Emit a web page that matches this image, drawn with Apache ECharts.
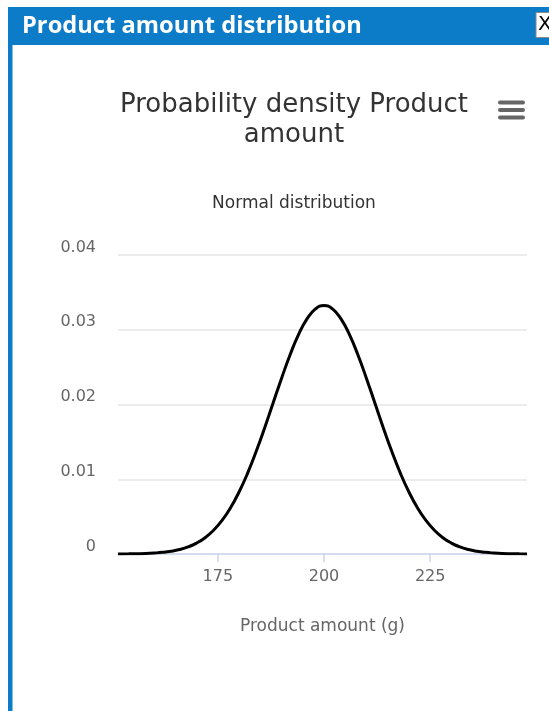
<!DOCTYPE html>
<html>
<head>
<meta charset="utf-8">
<script src="https://cdn.jsdelivr.net/npm/echarts@6/dist/echarts.min.js"></script>
<style>
html,body{margin:0;padding:0;background:#fff;}
#chart{width:549px;height:711px;}
</style>
</head>
<body>
<div id="chart"></div>
<script>
// Data
const amounts = [151.5,154,156,158,160,162,164,166,168,170,172,174,176,178,180,182,184,186,188,190,192,194,196,198,200,202,204,206,208,210,212,214,216,218,220,222,224,226,228,230,232,234,236,238,240,242,244,246,247.8];
const density = [0.00001,0.00002,0.00004,0.00007,0.00013,0.00022,0.00037,0.00060,0.00095,0.00146,0.00218,0.00318,0.00450,0.00619,0.00829,0.01079,0.01367,0.01683,0.02016,0.02349,0.02662,0.02934,0.03145,0.03279,0.03325,0.03279,0.03145,0.02934,0.02662,0.02349,0.02016,0.01683,0.01367,0.01079,0.00829,0.00619,0.00450,0.00318,0.00218,0.00146,0.00095,0.00060,0.00037,0.00022,0.00013,0.00007,0.00004,0.00002,0.00001];
const xTicks = [175, 200, 225];
const yTicks = [0, 0.01, 0.02, 0.03, 0.04];
const yLabels = ['0', '0.01', '0.02', '0.03', '0.04'];
const windowTitle = 'Product amount distribution';
const chartTitle = ['Probability density Product', 'amount'];
const chartSubtitle = 'Normal distribution';
const xAxisTitle = 'Product amount (g)';

const chart = echarts.init(document.getElementById('chart'));
const font = 'DejaVu Sans';
chart.setOption({
  animation: false,
  grid: {left: 118, right: 22, top: 255, bottom: 157},
  xAxis: {
    type: 'value', min: 151.5, max: 247.8,
    splitLine: {show: false},
    axisLine: {show: true, lineStyle: {color: '#ccd6eb', width: 1.5}},
    axisTick: {show: true, customValues: xTicks, length: 8, lineStyle: {color: '#ccd6eb', width: 1.5}},
    axisLabel: {customValues: xTicks, color: '#666', fontFamily: font, fontSize: 16, margin: 15},
    name: xAxisTitle, nameLocation: 'middle', nameGap: 64,
    nameTextStyle: {color: '#666', fontFamily: font, fontSize: 17}
  },
  yAxis: {
    type: 'value', min: 0, max: 0.04, interval: 0.01,
    axisLine: {show: false}, axisTick: {show: false},
    splitLine: {lineStyle: {color: '#e6e6e6', width: 1.5}},
    axisLabel: {color: '#666', fontFamily: font, fontSize: 16, margin: 22, verticalAlign: 'bottom', lineHeight: 15,
      formatter: v => { const i = yTicks.findIndex(t => Math.abs(t - v) < 1e-9); return i >= 0 ? yLabels[i] : ''; }}
  },
  series: [{
    type: 'line', data: amounts.map((a, i) => [a, density[i]]),
    smooth: true, showSymbol: false,
    lineStyle: {color: '#000', width: 3}
  }],
  graphic: [
    {type: 'rect', shape: {x: 8, y: 7, width: 560, height: 38}, style: {fill: '#0c7bc8'}},
    {type: 'rect', shape: {x: 8, y: 7, width: 4.5, height: 720}, style: {fill: '#0c7bc8'}},
    {type: 'text', x: 22, y: 26, style: {text: windowTitle, fill: '#fff', font: 'bold 23.7px "Open Sans"', textVerticalAlign: 'middle'}},
    {type: 'rect', shape: {x: 536, y: 12.5, width: 20, height: 25}, style: {fill: '#fff', stroke: '#888', lineWidth: 1}},
    {type: 'text', x: 538, y: 25, style: {text: 'X', fill: '#000', font: '20px "DejaVu Sans"', textVerticalAlign: 'middle'}},
    {type: 'text', x: 294, y: 105, style: {text: chartTitle[0], fill: '#333', font: '26px "DejaVu Sans"', textAlign: 'center', textVerticalAlign: 'middle'}},
    {type: 'text', x: 294, y: 135, style: {text: chartTitle[1], fill: '#333', font: '26px "DejaVu Sans"', textAlign: 'center', textVerticalAlign: 'middle'}},
    {type: 'text', x: 294, y: 204, style: {text: chartSubtitle, fill: '#333', font: '17px "DejaVu Sans"', textAlign: 'center', textVerticalAlign: 'middle'}},
    {type: 'rect', shape: {x: 498, y: 100.5, width: 27, height: 4, r: 2}, style: {fill: '#666'}},
    {type: 'rect', shape: {x: 498, y: 108, width: 27, height: 4, r: 2}, style: {fill: '#666'}},
    {type: 'rect', shape: {x: 498, y: 115.5, width: 27, height: 4, r: 2}, style: {fill: '#666'}}
  ]
});
</script>
</body>
</html>
